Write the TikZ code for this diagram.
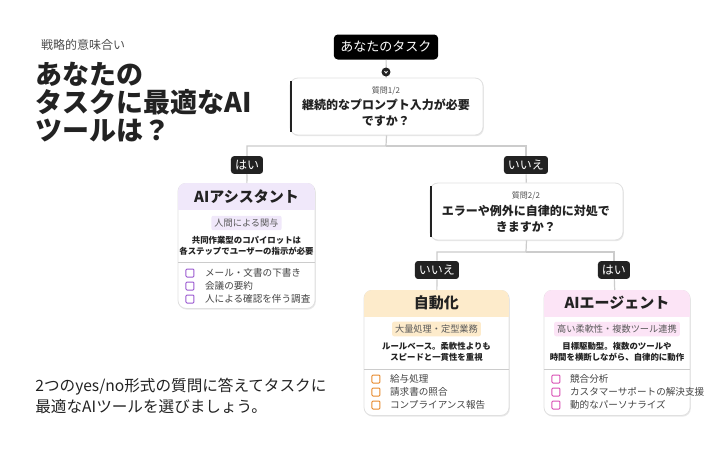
\documentclass[tikz,border=0pt]{standalone}
\usepackage{fontspec}
\setmainfont{Noto Sans CJK JP}
\usetikzlibrary{positioning,shadows}
\definecolor{ink}{HTML}{222222}
\definecolor{edge}{HTML}{CCCCCC}
\definecolor{purp}{HTML}{F0E8FA}
\definecolor{purpdk}{HTML}{9B59D0}
\definecolor{orng}{HTML}{FDEBCB}
\definecolor{orngdk}{HTML}{E8892B}
\definecolor{pink}{HTML}{FCE4F6}
\definecolor{pinkdk}{HTML}{D94FB5}
\newcommand{\fs}[1]{\fontsize{#1}{1.3\dimexpr#1pt\relax}\selectfont}
\tikzset{
  wire/.style={draw=edge, line width=0.6pt},
  answer/.style={fill=ink, text=white, rounded corners=1.5pt, inner sep=2pt, font=\fs{6}},
  card/.style={draw=edge!60, fill=white, rounded corners=4pt, line width=0.4pt,
    drop shadow={shadow xshift=0.4pt, shadow yshift=-0.6pt, opacity=0.18}},
  qbox/.style={card},
  heading/.style={font=\fs{7.5}\bfseries, text=ink},
  tagbox/.style={rounded corners=1pt, inner sep=1.5pt, font=\fs{4.6}},
  desc/.style={font=\fs{4.2}\bfseries, align=center, text=ink},
  item/.style={font=\fs{4.8}, text=ink!85, anchor=west},
  icon/.style={draw=#1, line width=0.5pt, minimum size=4pt, inner sep=0pt, rounded corners=0.5pt},
}
% card: name, left, right, top, header colour, icon colour
\newcommand{\toolcard}[6]{%
  \node[card, minimum width=(#3-#2)*0.5pt, minimum height=62.5pt, anchor=north] (#1) at ({(#2+#3)/2},#4) {};
  \begin{scope}
    \clip[rounded corners=4pt] (#2,#4) rectangle (#3,#4+125);
    \fill[#5] (#2,#4) rectangle (#3,#4+27);
  \end{scope}
  \draw[edge, line width=0.5pt] (#2,#4+79) -- (#3,#4+79);
}
\begin{document}
\begin{tikzpicture}[x=0.5pt,y=-0.5pt]
\useasboundingbox (0,0) rectangle (720,450);
\fill[white] (0,0) rectangle (720,450);

% left column
\node[anchor=west, font=\fs{6}, text=ink!80] (kicker) at (34,45) {戦略的意味合い};
\node[anchor=north west, font=\fs{13.5}\bfseries, align=left, text=ink, inner sep=0pt] (title) at (35,62)
  {あなたの\\[-3.5pt]タスクに最適なAI\\[-3.5pt]ツールは？};
\node[anchor=west, font=\fs{7.8}, align=left, text=ink, inner sep=0pt] (note) at (35,396)
  {2つのyes/no形式の質問に答えてタスクに\\最適なAIツールを選びましょう。};

% task and first question
\node[fill=black, text=white, rounded corners=2pt, minimum width=50pt, minimum height=12.5pt, font=\fs{6.5}] (task) at (386,47) {あなたのタスク};
\node[qbox, minimum width=96.5pt, minimum height=28.5pt] (q1) at (386.5,106.5) {};
\draw[ink, line width=1.2pt] (291,81) -- (291,132);
\node[font=\fs{4}, text=ink!80] (q1n) at (386,91) {質問1/2};
\node[heading, font=\fs{6}\bfseries, align=center] (q1t) at (386,113) {継続的なプロンプト入力が必要\\ですか？};
\draw[wire] (task) -- (q1);
\node[circle, fill=ink, inner sep=0pt, minimum size=4.5pt] (chev) at (386,72) {};
\draw[white, line width=0.4pt] (384.5,71) -- (386,73) -- (387.5,71);

% first split
\coordinate (s1) at (386,146);
\node[answer] (yes1) at (247,165) {はい};
\node[answer] (no1) at (526,165) {いいえ};
\draw[wire] (q1.south) -- (s1) -| (yes1);
\draw[wire] (s1) -| (no1);

% assistant card
\toolcard{assist}{178}{315}{183}{purp}{purpdk}
\draw[wire] (yes1) -- (assist);
\node[heading] (assistH) at (246.5,197) {AIアシスタント};
\node[tagbox, fill=purp, text=ink!75] (assistT) at (246.5,223) {人間による関与};
\node[desc] (assistD) at (246.5,246) {共同作業型のコパイロットは\\各ステップでユーザーの指示が必要};
\foreach \y/\t in {273/メール・文書の下書き, 286/会議の要約, 299/人による確認を伴う調査}
  \node[item] at (198,\y) {\t};
\foreach \y in {273,286,299}
  \node[icon=purpdk] at (190,\y) {};

% second question
\node[qbox, minimum width=96.5pt, minimum height=28.5pt] (q2) at (526.5,211.5) {};
\draw[ink, line width=1.2pt] (431,186) -- (431,237);
\draw[wire] (no1) -- (q2);
\node[font=\fs{4}, text=ink!80] (q2n) at (526,196) {質問2/2};
\node[heading, font=\fs{6}\bfseries, align=center] (q2t) at (526,219) {エラーや例外に自律的に対処で\\きますか？};

% second split
\coordinate (s2) at (526,252);
\node[answer] (no2) at (437,270) {いいえ};
\node[answer] (yes2) at (614,270) {はい};
\draw[wire] (q2.south) -- (s2) -| (no2);
\draw[wire] (s2) -| (yes2);

% automation card
\toolcard{auto}{364}{509}{290}{orng}{orngdk}
\draw[wire] (no2) -- (auto);
\node[heading] (autoH) at (436.5,303) {自動化};
\node[tagbox, fill=orng, text=ink!75] (autoT) at (436.5,329) {大量処理・定型業務};
\node[desc] (autoD) at (436.5,352) {ルールベース。柔軟性よりも\\スピードと一貫性を重視};
\foreach \y/\t in {379/給与処理, 392/請求書の照合, 405/コンプライアンス報告}
  \node[item] at (383,\y) {\t};
\foreach \y in {379,392,405}
  \node[icon=orngdk] at (376,\y) {};

% agent card
\toolcard{agent}{544}{690}{290}{pink}{pinkdk}
\draw[wire] (yes2) -- (agent);
\node[heading] (agentH) at (617,303) {AIエージェント};
\node[tagbox, fill=pink, text=ink!75] (agentT) at (617,329) {高い柔軟性・複数ツール連携};
\node[desc] (agentD) at (617,352) {目標駆動型。複数のツールや\\時間を横断しながら、自律的に動作};
\foreach \y/\t in {379/競合分析, 392/カスタマーサポートの解決支援, 405/動的なパーソナライズ}
  \node[item] at (563,\y) {\t};
\foreach \y in {379,392,405}
  \node[icon=pinkdk] at (556,\y) {};
\end{tikzpicture}
\end{document}
